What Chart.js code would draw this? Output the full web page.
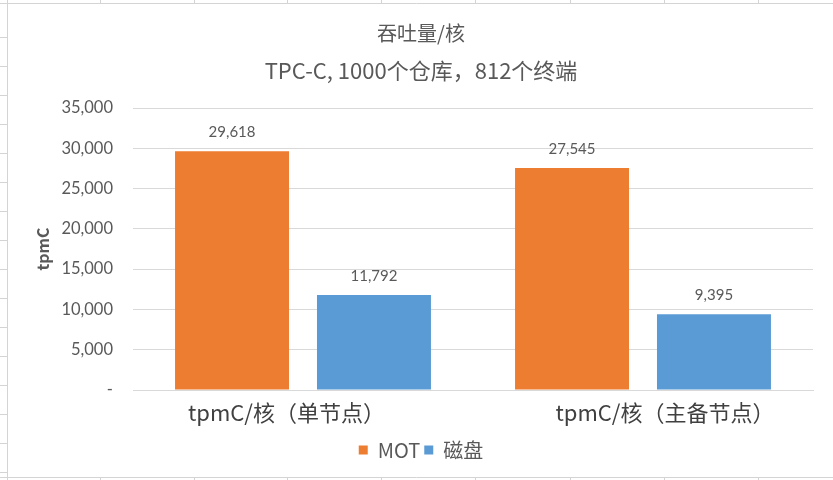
<!DOCTYPE html>
<html>
<head>
<meta charset="utf-8">
<script src="https://cdn.jsdelivr.net/npm/chart.js@4/dist/chart.umd.min.js"></script>
<style>
  html, body { margin: 0; padding: 0; background: #fff; }
  #wrap { width: 833px; height: 480px; position: relative; }
</style>
</head>
<body>
<div id="wrap"><canvas id="chart"></canvas></div>
<script>
// data
const categories = ['tpmC/核（单节点）', 'tpmC/核（主备节点）'];
const seriesNames = ['MOT', '磁盘'];
const motValues = [29618, 27545];
const diskValues = [11792, 9395];
const yTicks = [0, 5000, 10000, 15000, 20000, 25000, 30000, 35000];

const cjk = "'Noto Sans CJK SC', 'Noto Sans', sans-serif";
const numFont = "Lato, 'Noto Sans CJK SC', sans-serif";
const grey = '#595959';

// faint spreadsheet cells behind the chart
const sheetBackground = {
    id: 'sheetBackground',
    beforeDraw: (chart) => {
        const ctx = chart.ctx;
        ctx.save();
        ctx.fillStyle = '#fff';
        ctx.fillRect(0, 0, chart.width, chart.height);
        ctx.strokeStyle = '#d4d4d4';
        ctx.lineWidth = 1;
        ctx.beginPath();
        ctx.moveTo(0, 3.5); ctx.lineTo(chart.width, 3.5);
        ctx.moveTo(7.5, 0); ctx.lineTo(7.5, chart.height);
        ctx.moveTo(0, 477.5); ctx.lineTo(chart.width, 477.5);
        [100, 194, 287, 381, 475, 570, 664, 758].forEach(x => {
            ctx.moveTo(x + 0.5, 0); ctx.lineTo(x + 0.5, 3);
            ctx.moveTo(x + 0.5, 478); ctx.lineTo(x + 0.5, 480);
        });
        for (let y = 37; y < 478; y += 29) {
            ctx.moveTo(0, y + 0.5); ctx.lineTo(7, y + 0.5);
        }
        ctx.stroke();
        ctx.restore();
    }
};

// value labels above each bar
const barLabels = {
    id: 'barLabels',
    afterDatasetsDraw: (chart) => {
        const ctx = chart.ctx;
        ctx.save();
        ctx.font = '15px ' + numFont;
        ctx.fillStyle = grey;
        ctx.textAlign = 'center';
        ctx.textBaseline = 'middle';
        chart.data.datasets.forEach((ds, i) => {
            chart.getDatasetMeta(i).data.forEach((bar, j) => {
                ctx.fillText(ds.data[j].toLocaleString('en-US'), bar.x, bar.y - 19);
            });
        });
        ctx.restore();
    }
};

const ctx = document.getElementById('chart').getContext('2d');
new Chart(ctx, {
    type: 'bar',
    data: {
        labels: categories,
        datasets: [
            {
                label: seriesNames[0],
                data: motValues,
                backgroundColor: '#ED7D31',
                categoryPercentage: 0.835,
                barPercentage: 0.803
            },
            {
                label: seriesNames[1],
                data: diskValues,
                backgroundColor: '#5B9BD5',
                categoryPercentage: 0.835,
                barPercentage: 0.803
            }
        ]
    },
    options: {
        responsive: true,
        maintainAspectRatio: false,
        animation: false,
        layout: {
            padding: { top: 20, right: 20, bottom: 10, left: 29 }
        },
        scales: {
            x: {
                afterFit: (scale) => { scale.height += 9.6; },
                grid: { display: false },
                border: { display: true, color: '#d9d9d9' },
                ticks: {
                    color: '#404040',
                    font: { family: cjk, size: 22 },
                    padding: 1,
                    // the sheet draws the two labels a little off centre
                    callback: function (v, i) {
                        const t = this.getLabelForValue(v);
                        return i === 0 ? t + '\u3000\u3000' : '\u3000\u3000' + t;
                    }
                }
            },
            y: {
                min: 0,
                max: 35000,
                afterFit: (scale) => { scale.width = 104; },
                afterBuildTicks: (scale) => {
                    scale.ticks = yTicks.map(v => ({ value: v }));
                },
                grid: { color: '#d9d9d9', drawTicks: false },
                border: { display: false },
                ticks: {
                    color: grey,
                    padding: 20,
                    font: { family: numFont, size: 16.5 },
                    callback: (v) => v === 0 ? '-' : v.toLocaleString('en-US')
                },
                title: {
                    display: true,
                    text: 'tpmC',
                    color: grey,
                    font: { family: cjk, size: 16, weight: 'bold' },
                    padding: { top: 4, bottom: 0 }
                }
            }
        },
        plugins: {
            title: {
                display: true,
                text: '吞吐量/核',
                color: grey,
                font: { family: cjk, size: 20, weight: 'normal' },
                padding: { top: 1, bottom: 10 }
            },
            subtitle: {
                display: true,
                text: 'TPC-C, 1000个仓库，812个终端',
                color: grey,
                font: { family: cjk, size: 22 },
                padding: { top: 2, bottom: 24.6 }
            },
            legend: {
                position: 'bottom',
                labels: {
                    color: grey,
                    boxWidth: 9,
                    boxHeight: 9,
                    padding: 4,
                    font: { family: cjk, size: 20 }
                }
            },
            tooltip: { enabled: false }
        }
    },
    plugins: [sheetBackground, barLabels]
});
</script>
</body>
</html>
